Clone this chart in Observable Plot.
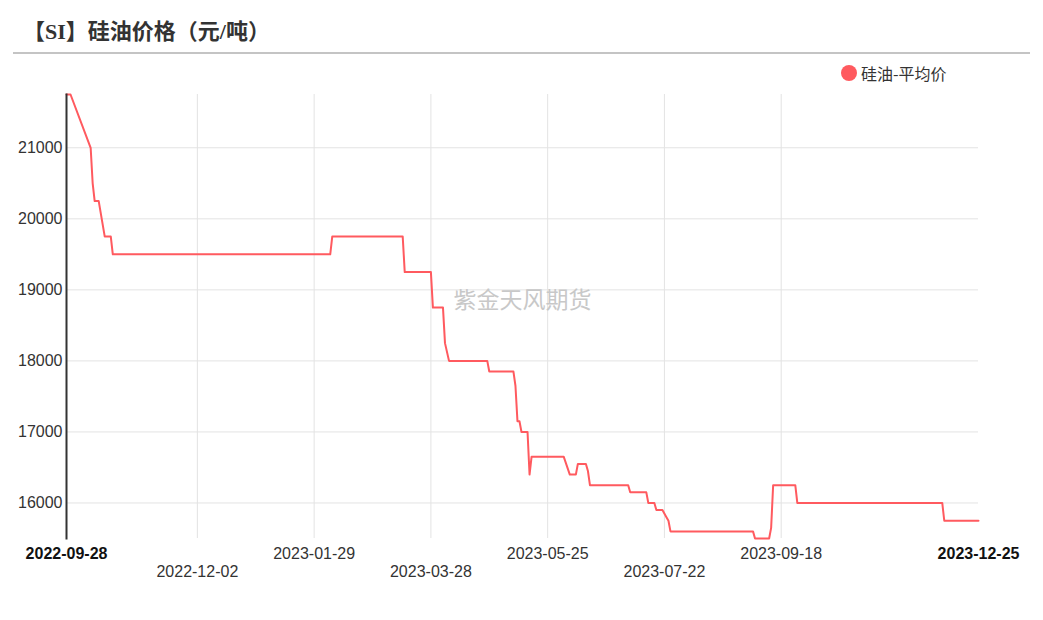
<!DOCTYPE html>
<html>
<head>
<meta charset="utf-8">
<script src="https://cdn.jsdelivr.net/npm/d3@7"></script>
<script src="https://cdn.jsdelivr.net/npm/@observablehq/plot@0.6"></script>
<style>
  html, body { margin: 0; padding: 0; background: #fff; }
  #wrap { position: relative; width: 1043px; height: 620px; overflow: hidden; }
  #title { position: absolute; left: 23px; top: 13px; font: bold 22px "Liberation Serif", "Noto Sans CJK SC", serif; color: #333; white-space: nowrap; }
  #rule { position: absolute; left: 13px; top: 52px; width: 1017px; height: 0; border-top: 2px solid #c4c4c4; }
  #legend { position: absolute; left: 841px; top: 61px; font: 16px "Noto Sans CJK SC", "Liberation Sans", sans-serif; color: #333; display: flex; align-items: center; white-space: nowrap; }
  #legend .dot { width: 16px; height: 16px; border-radius: 50%; margin-right: 4px; }
  #chart { position: absolute; left: 0; top: 0; }
</style>
</head>
<body>
<div id="wrap">
  <div id="chart"></div>
  <div id="title">【SI】硅油价格（元/吨）</div>
  <div id="rule"></div>
  <div id="legend"><span class="dot" id="dot"></span><span id="legendText"></span></div>
</div>
<script>
const seriesName = "硅油-平均价";
const seriesColor = "#ff5a5f";
const watermark = "紫金天风期货";

const dates = [
  "2022-09-28","2022-09-30","2022-10-10","2022-10-11","2022-10-12","2022-10-14","2022-10-17","2022-10-20","2022-10-21",
  "2023-02-06","2023-02-07","2023-03-14","2023-03-15","2023-03-28","2023-03-29","2023-04-03","2023-04-04","2023-04-06",
  "2023-04-25","2023-04-26","2023-05-08","2023-05-09","2023-05-10","2023-05-11","2023-05-12","2023-05-15","2023-05-16",
  "2023-05-17","2023-06-02","2023-06-05","2023-06-08","2023-06-09","2023-06-13","2023-06-14","2023-06-15","2023-07-04",
  "2023-07-05","2023-07-13","2023-07-14","2023-07-17","2023-07-18","2023-07-21","2023-07-23","2023-07-24","2023-07-25",
  "2023-09-04","2023-09-05","2023-09-12","2023-09-13","2023-09-14","2023-09-25","2023-09-26","2023-12-07","2023-12-08",
  "2023-12-25"
];
const prices = [
  21750,21750,21000,20500,20250,20250,19750,19750,19500,
  19500,19750,19750,19250,19250,18750,18750,18250,18000,
  18000,17850,17850,17650,17150,17150,17000,17000,16400,
  16650,16650,16400,16400,16550,16550,16450,16250,16250,
  16150,16150,16000,16000,15900,15900,15800,15750,15600,
  15600,15500,15500,15650,16250,16250,16000,16000,15750,
  15750
];

const xDomain = ["2022-09-28", "2023-12-25"];
const yDomain = [15500, 21750];
const yTicks = [16000, 17000, 18000, 19000, 20000, 21000];
const xTicksRow1 = ["2023-01-29", "2023-05-25", "2023-09-18"];
const xTicksRow2 = ["2022-12-02", "2023-03-28", "2023-07-22"];
const xTicksBold = ["2022-09-28", "2023-12-25"];

const parse = d3.utcParse("%Y-%m-%d");
const fmt = d3.utcFormat("%Y-%m-%d");
const data = dates.map((d, i) => ({date: parse(d), value: prices[i]}));
const gridDates = [...xTicksRow1, ...xTicksRow2].map(parse);

document.getElementById("dot").style.background = seriesColor;
document.getElementById("legendText").textContent = seriesName;

const chart = Plot.plot({
  width: 1043,
  height: 620,
  marginLeft: 66,
  marginRight: 65,
  marginTop: 94,
  marginBottom: 82,
  style: {fontFamily: "'Liberation Sans', Arial, sans-serif", fontSize: "16px", color: "#333", background: "transparent"},
  x: {type: "utc", domain: xDomain.map(parse)},
  y: {domain: yDomain},
  marks: [
    Plot.gridY(yTicks, {stroke: "#e3e3e3", strokeOpacity: 1}),
    Plot.gridX(gridDates, {stroke: "#e3e3e3", strokeOpacity: 1}),
    Plot.axisY(yTicks, {tickSize: 0, tickPadding: 4, tickFormat: d => String(d), label: null, fill: "#333"}),
    Plot.axisX(xTicksRow1.map(parse), {tickSize: 0, tickPadding: 9, tickFormat: fmt, label: null, fill: "#333"}),
    Plot.axisX(xTicksRow2.map(parse), {tickSize: 0, tickPadding: 27, tickFormat: fmt, label: null, fill: "#333"}),
    Plot.axisX(xTicksBold.map(parse), {tickSize: 0, tickPadding: 9, tickFormat: fmt, label: null, fontWeight: "bold", fill: "#111"}),
    Plot.text([watermark], {frameAnchor: "middle", dy: -16, fill: "#c8c8c8", fontSize: 23, fontFamily: "'Noto Sans CJK SC', sans-serif"}),
    Plot.line(data, {x: "date", y: "value", stroke: seriesColor, strokeWidth: 2}),
    Plot.frame({anchor: "left", stroke: "#333", strokeWidth: 2, strokeOpacity: 1})
  ]
});
document.getElementById("chart").appendChild(chart);
</script>
</body>
</html>
